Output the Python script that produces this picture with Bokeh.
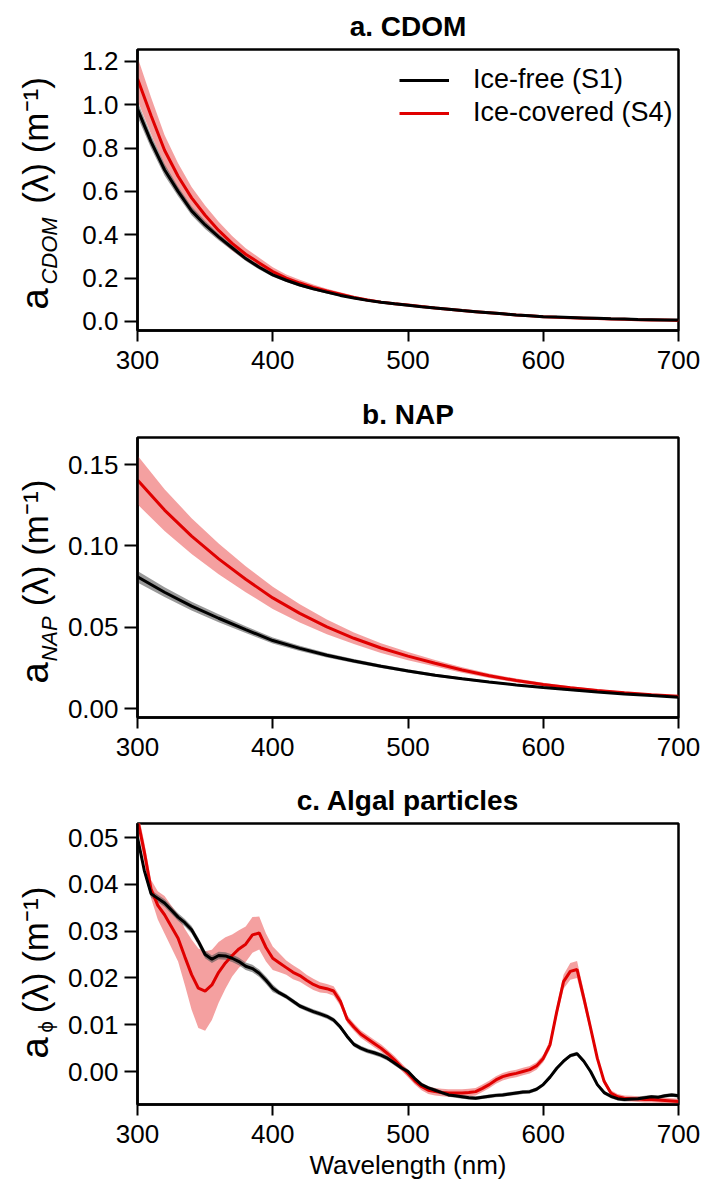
from math import pi
import numpy as np
from bokeh.plotting import figure
from bokeh.models import Range1d, FixedTicker, Label, Legend, LegendItem, NumeralTickFormatter
from bokeh.layouts import column, row
from bokeh.embed import file_html
from bokeh.resources import INLINE

FONT = "Liberation Sans"
RED = "#e00000"
BLACK = "#000000"
RED_BAND = "#f08080"
GRAY_BAND = "#555555"

# ---------------- data: a. CDOM (10 nm steps) ----------------
lam_a = list(range(300, 701, 10))
cdom_s1 = [0.98, 0.83, 0.70, 0.60, 0.51, 0.445, 0.39, 0.34, 0.29, 0.25,
           0.215, 0.19, 0.168, 0.15, 0.135, 0.12, 0.108, 0.097, 0.088, 0.081,
           0.075, 0.068, 0.062, 0.056, 0.050, 0.045, 0.040, 0.035, 0.030, 0.026,
           0.022, 0.020, 0.018, 0.016, 0.014, 0.012, 0.011, 0.009, 0.008, 0.007, 0.006]
cdom_s4 = [1.12, 0.95, 0.79, 0.67, 0.57, 0.49, 0.42, 0.36, 0.31, 0.27,
           0.23, 0.20, 0.177, 0.157, 0.14, 0.125, 0.11, 0.099, 0.089, 0.082,
           0.076, 0.069, 0.062, 0.056, 0.050, 0.045, 0.040, 0.035, 0.030, 0.026,
           0.022, 0.019, 0.017, 0.015, 0.013, 0.011, 0.0095, 0.008, 0.007, 0.006, 0.004]
cdom_s1_sd = [0.035, 0.03, 0.026, 0.022, 0.02, 0.018, 0.015, 0.013, 0.011, 0.01,
              0.009, 0.008, 0.007, 0.006, 0.006, 0.005, 0.004, 0.004, 0.004, 0.004,
              0.004, 0.004, 0.004, 0.004, 0.004, 0.004, 0.004, 0.004, 0.004, 0.004,
              0.004, 0.004, 0.004, 0.004, 0.004, 0.004, 0.004, 0.004, 0.004, 0.004, 0.004]
cdom_s4_sd = [0.10, 0.085, 0.07, 0.06, 0.05, 0.045, 0.04, 0.034, 0.028, 0.024,
              0.02, 0.017, 0.015, 0.013, 0.011, 0.009, 0.008, 0.007, 0.006, 0.005,
              0.004, 0.004, 0.004, 0.004, 0.004, 0.004, 0.004, 0.004, 0.004, 0.004,
              0.003, 0.003, 0.003, 0.003, 0.003, 0.003, 0.003, 0.003, 0.003, 0.003, 0.003]

# ---------------- data: b. NAP (20 nm steps) ----------------
lam_b = list(range(300, 701, 20))
nap_s1 = [0.081, 0.0715, 0.063, 0.0555, 0.0485, 0.0418, 0.037, 0.0328, 0.0292, 0.026,
          0.0231, 0.0205, 0.0183, 0.0163, 0.0145, 0.0129, 0.0115, 0.0102, 0.009, 0.008, 0.007]
nap_s4 = [0.1405, 0.122, 0.106, 0.092, 0.0795, 0.068, 0.0585, 0.0502, 0.0432, 0.0372,
          0.0322, 0.0278, 0.0237, 0.0202, 0.0172, 0.0148, 0.0128, 0.0111, 0.0097, 0.0085, 0.0075]
nap_s1_sd = [0.0035, 0.003, 0.0027, 0.0024, 0.0021, 0.0018, 0.0016, 0.0014, 0.0012, 0.0011,
             0.001, 0.0009, 0.0008, 0.0007, 0.0006, 0.0006, 0.0005, 0.0005, 0.0004, 0.0004, 0.0004]
nap_s4_sd = [0.015, 0.0128, 0.011, 0.0095, 0.008, 0.0068, 0.0056, 0.0045, 0.0036, 0.003,
             0.0025, 0.002, 0.0017, 0.0014, 0.0012, 0.001, 0.0009, 0.0008, 0.0007, 0.0006, 0.0005]

# ---------------- data: c. Algal particles (5 nm steps) ----------------
lam_c = list(range(300, 701, 5))
alg_s1 = [0.050, 0.043, 0.038, 0.037, 0.036, 0.0345, 0.033, 0.0318, 0.0303, 0.0278,
          0.025, 0.024, 0.0248, 0.0247, 0.0242, 0.0235, 0.0225, 0.022, 0.021, 0.0195,
          0.0178, 0.0168, 0.016, 0.015, 0.014, 0.0134, 0.0128, 0.0123, 0.0118, 0.011,
          0.0095, 0.0075, 0.0058, 0.005, 0.0044, 0.004, 0.0035, 0.0028, 0.0018, 0.0008,
          0.0, -0.0015, -0.0028, -0.0035, -0.004, -0.0045, -0.005, -0.0052, -0.0054, -0.0056,
          -0.0057, -0.0055, -0.0053, -0.0051, -0.005, -0.0048, -0.0046, -0.0044, -0.0043, -0.0038,
          -0.0028, -0.0012, 0.0007, 0.0022, 0.0034, 0.0038, 0.0022, 0.0, -0.0028, -0.0045,
          -0.0053, -0.0058, -0.006, -0.0059, -0.0058, -0.0056, -0.0054, -0.0055, -0.0052, -0.005, -0.0052]
alg_s4 = [0.054, 0.047, 0.039, 0.0355, 0.0335, 0.031, 0.0285, 0.0245, 0.0207, 0.0178,
          0.0172, 0.0185, 0.0212, 0.0232, 0.0248, 0.0262, 0.0272, 0.0292, 0.0296, 0.0265,
          0.0242, 0.0232, 0.0222, 0.0212, 0.0205, 0.0195, 0.0186, 0.018, 0.0177, 0.0172,
          0.015, 0.0112, 0.0095, 0.008, 0.007, 0.006, 0.005, 0.0038, 0.0025, 0.001,
          -0.0004, -0.002, -0.0032, -0.004, -0.0043, -0.0045, -0.0046, -0.0046, -0.0046, -0.0045,
          -0.0043, -0.0036, -0.0028, -0.0018, -0.0011, -0.0007, -0.0004, 0.0, 0.0004, 0.0012,
          0.0028, 0.0057, 0.0128, 0.0192, 0.0214, 0.0218, 0.0157, 0.0093, 0.0028, -0.0021,
          -0.0046, -0.0054, -0.0057, -0.0058, -0.0059, -0.006, -0.006, -0.0061, -0.0062, -0.0063, -0.0064]
alg_s1_sd = [0.0008] * 21 + [0.0005] * 20 + [0.0004] * 40
alg_s4_sd = [0.002, 0.002, 0.002, 0.003, 0.004, 0.0045, 0.005, 0.006, 0.0075, 0.0085,
             0.0085, 0.0075, 0.0065, 0.0055, 0.0045, 0.004, 0.0038, 0.0038, 0.0035, 0.003,
             0.0025, 0.002, 0.0015, 0.0015, 0.0013, 0.0012, 0.0012, 0.0011, 0.001, 0.001,
             0.001, 0.0008, 0.0008, 0.0008, 0.0008, 0.0008, 0.0008, 0.0008, 0.0008, 0.0008,
             0.0008, 0.0008, 0.0008, 0.0008, 0.0008, 0.0008, 0.0008, 0.0008, 0.0008, 0.0008,
             0.0008, 0.0008, 0.0008, 0.0008, 0.0008, 0.0008, 0.0008, 0.0008, 0.0008, 0.0008,
             0.0008, 0.001, 0.0012, 0.0015, 0.0018, 0.0018, 0.0015, 0.001, 0.0006, 0.0006,
             0.0006, 0.0006, 0.0006, 0.0006, 0.0006, 0.0006, 0.0006, 0.0006, 0.0006, 0.0006, 0.0006]

x_ticks = [300, 400, 500, 600, 700]
y_ticks_a = [0.0, 0.2, 0.4, 0.6, 0.8, 1.0, 1.2]
y_ticks_b = [0.0, 0.05, 0.10, 0.15]
y_ticks_c = [0.0, 0.01, 0.02, 0.03, 0.04, 0.05]

LAB_W = 62


def make_fig(title, frame_h, top, bottom, yr, yticks, fmt, xlabel=None):
    p = figure(frame_width=541, frame_height=frame_h,
               min_border_left=137 - LAB_W, min_border_right=26,
               min_border_top=top, min_border_bottom=bottom,
               x_range=Range1d(300, 700), y_range=Range1d(*yr),
               output_backend="svg", toolbar_location=None, title=title)
    p.grid.visible = False
    p.background_fill_color = "white"
    p.border_fill_color = "white"
    p.outline_line_color = "black"
    p.outline_line_width = 2.5
    p.outline_line_alpha = 1
    p.title.text_font = FONT
    p.title.text_font_size = "28px"
    p.title.text_font_style = "bold"
    p.title.align = "center"
    p.title.text_color = "black"
    p.title.standoff = 16
    for ax in (p.xaxis[0], p.yaxis[0]):
        ax.axis_line_width = 2.5
        ax.axis_line_color = "black"
        ax.major_tick_line_width = 2
        ax.major_tick_line_color = "black"
        ax.major_tick_in = 0
        ax.minor_tick_out = 0
        ax.minor_tick_in = 0
        ax.major_label_text_font = FONT
        ax.major_label_text_font_size = "26px"
        ax.major_label_text_color = "black"
    p.xaxis.ticker = FixedTicker(ticks=x_ticks)
    p.xaxis.major_tick_out = 11
    p.xaxis.major_label_standoff = 9
    p.yaxis.ticker = FixedTicker(ticks=yticks)
    p.yaxis.major_tick_out = 13
    p.yaxis.major_label_standoff = 6
    p.yaxis.formatter = NumeralTickFormatter(format=fmt)
    if xlabel:
        p.xaxis.axis_label = xlabel
        p.xaxis.axis_label_text_font = FONT
        p.xaxis.axis_label_text_font_size = "26px"
        p.xaxis.axis_label_text_font_style = "normal"
        p.xaxis.axis_label_text_color = "black"
        p.xaxis.axis_label_standoff = 4
    return p


def draw(p, lam, s1, s4, s1_sd, s4_sd):
    lam = np.array(lam, dtype=float)
    s1 = np.array(s1); s4 = np.array(s4)
    s1_sd = np.array(s1_sd); s4_sd = np.array(s4_sd)
    p.varea(x=lam, y1=s4 - s4_sd, y2=s4 + s4_sd, fill_color=RED_BAND, fill_alpha=0.75)
    p.varea(x=lam, y1=s1 - s1_sd, y2=s1 + s1_sd, fill_color=GRAY_BAND, fill_alpha=0.6)
    lr = p.line(lam, s4, line_color=RED, line_width=3)
    lb = p.line(lam, s1, line_color=BLACK, line_width=3)
    return lb, lr


def label_fig(frame_h, top, bottom, frame_top_px, sub, sub_size, sub_style, sub_x, y_a, y_sub, y_rest):
    # narrow strip left of each panel carrying the rotated y-axis title.
    # Its frame matches the panel frame; y is measured in page pixels (negated).
    q = figure(frame_width=LAB_W, frame_height=frame_h,
               min_border_left=0, min_border_right=0,
               min_border_top=top, min_border_bottom=bottom,
               x_range=Range1d(0, LAB_W),
               y_range=Range1d(-(frame_top_px + frame_h), -frame_top_px),
               x_axis_type=None, y_axis_type=None,
               output_backend="svg", toolbar_location=None)
    q.grid.visible = False
    q.outline_line_color = None
    q.background_fill_color = "white"
    q.border_fill_color = "white"
    common = dict(angle=pi / 2, text_font=FONT, text_align="center",
                  text_baseline="middle", text_color="black")
    q.add_layout(Label(x=34, y=-y_a, text="a", text_font_size="38px", **common))
    q.add_layout(Label(x=sub_x, y=-y_sub, text=sub, text_font_size=sub_size,
                       text_font_style=sub_style, **common))
    q.add_layout(Label(x=35, y=-y_rest, text="(λ) (m⁻¹)", text_font_size="35px", **common))
    return q


pa = make_fig("a. CDOM", 281, 48, 51, (-0.042, 1.255), y_ticks_a, "0.0")
lb, lr = draw(pa, lam_a, cdom_s1, cdom_s4, cdom_s1_sd, cdom_s4_sd)
legend = Legend(items=[LegendItem(label="Ice-free (S1)", renderers=[lb]),
                       LegendItem(label="Ice-covered (S4)", renderers=[lr])],
                location=(262, 202), padding=0, margin=0, spacing=2,
                glyph_width=50, glyph_height=30, label_standoff=24,
                label_text_font=FONT, label_text_font_size="27px",
                label_text_color="black",
                border_line_alpha=0, background_fill_alpha=0)
pa.add_layout(legend)
qa = label_fig(281, 48, 51, 48, "CDOM", "22px", "italic", 49, 297.5, 249.5, 139)

pb = make_fig("b. NAP", 280, 56, 50, (-0.0055, 0.1666), y_ticks_b, "0.00")
draw(pb, lam_b, nap_s1, nap_s4, nap_s1_sd, nap_s4_sd)
qb = label_fig(280, 56, 50, 436, "NAP", "22px", "italic", 49, 671.5, 637.5, 541.5)

pc = make_fig("c. Algal particles", 281, 56, 81, (-0.00705, 0.053), y_ticks_c, "0.00",
              xlabel="Wavelength (nm)")
draw(pc, lam_c, alg_s1, alg_s4, alg_s1_sd, alg_s4_sd)
qc = label_fig(281, 56, 81, 822, "ϕ", "20px", "normal", 45, 1046.5, 1025.5, 948.5)

layout = column(row(qa, pa, spacing=0), row(qb, pb, spacing=0), row(qc, pc, spacing=0), spacing=0)
open("out.html", "w").write(file_html(layout, INLINE))
